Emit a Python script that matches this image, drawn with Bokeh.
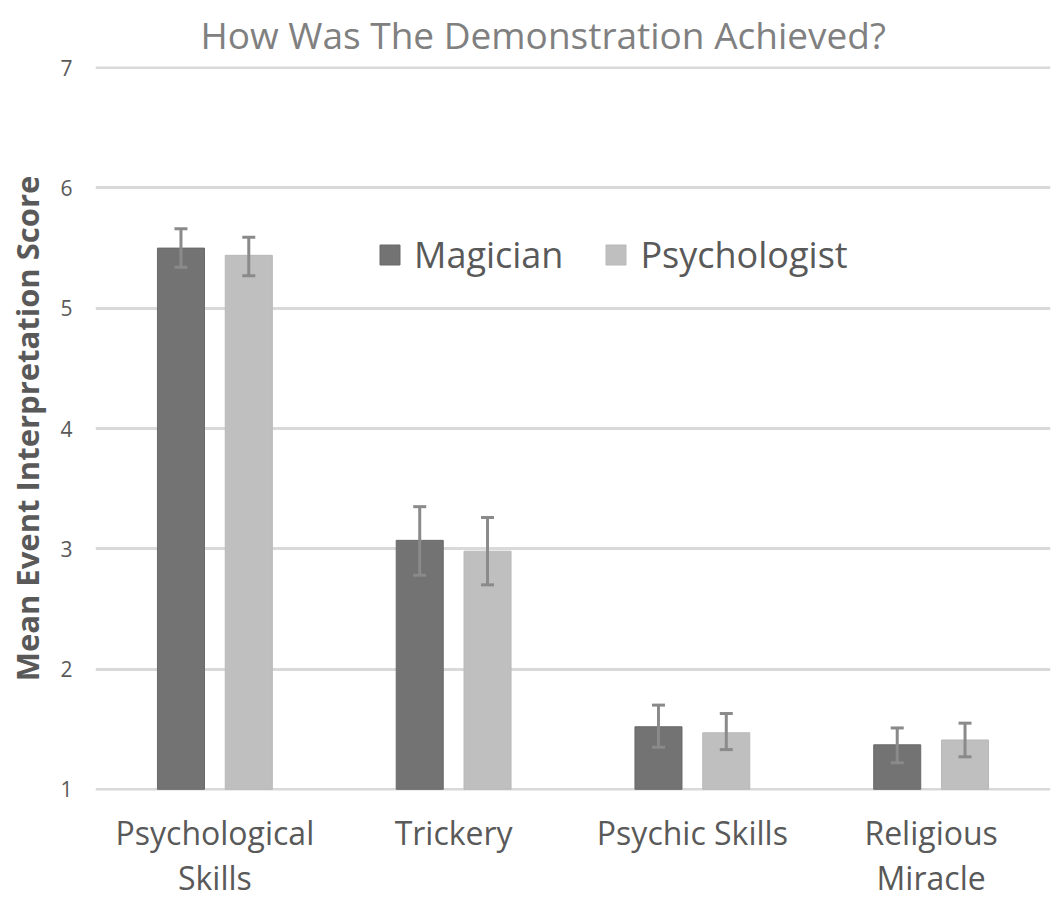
from bokeh.plotting import figure
from bokeh.models import (FactorRange, Range1d, ColumnDataSource, Whisker, TeeHead,
                          Legend, LegendItem)
from bokeh.transform import dodge
from bokeh.embed import file_html
from bokeh.resources import INLINE

categories = ["Psychological\nSkills", "Trickery", "Psychic Skills", "Religious\nMiracle"]
magician_mean = [5.50, 3.07, 1.52, 1.37]
magician_low = [5.34, 2.78, 1.35, 1.22]
magician_high = [5.66, 3.35, 1.70, 1.51]
psychologist_mean = [5.44, 2.98, 1.47, 1.41]
psychologist_low = [5.27, 2.70, 1.33, 1.27]
psychologist_high = [5.59, 3.26, 1.63, 1.55]
y_ticks = [1, 2, 3, 4, 5, 6, 7]

FONT = "Open Sans"
TXT = "#595959"

p = figure(x_range=FactorRange(*categories, range_padding=0),
           y_range=Range1d(0.99, 7.01),
           width=1056, height=901, output_backend="svg", toolbar_location=None,
           min_border_left=95, min_border_right=6, min_border_top=66, min_border_bottom=100)

p.title.text = "How Was The Demonstration Achieved?"
p.title.text_font = FONT
p.title.text_font_size = "37px"
p.title.text_font_style = "normal"
p.title.text_color = "#808080"
p.title.align = "left"
p.title.offset = 105
p.title.standoff = 13

p.outline_line_color = None
p.xgrid.grid_line_color = None
p.ygrid.grid_line_color = "#d9d9d9"
p.ygrid.grid_line_width = 3
p.yaxis.ticker = y_ticks

for ax in (p.xaxis, p.yaxis):
    ax.axis_line_color = None
    ax.major_tick_line_color = None
    ax.minor_tick_line_color = None
    ax.major_tick_out = 0
    ax.major_tick_in = 0
    ax.major_label_text_font = FONT
    ax.major_label_text_color = TXT

p.yaxis.major_label_text_font_size = "21px"
p.yaxis.major_label_standoff = 23
p.yaxis.axis_label = "Mean Event Interpretation Score"
p.yaxis.axis_label_text_font = FONT
p.yaxis.axis_label_text_font_size = "31px"
p.yaxis.axis_label_text_font_style = "bold"
p.yaxis.axis_label_text_color = TXT
p.yaxis.axis_label_standoff = 9

p.xaxis.major_label_text_font_size = "32px"
p.xaxis.major_label_text_line_height = 1.05
p.xaxis.major_label_standoff = 20

src = ColumnDataSource(dict(cat=categories, m=magician_mean, ml=magician_low, mh=magician_high,
                            s=psychologist_mean, sl=psychologist_low, sh=psychologist_high))

off = 0.142
w = 0.197
r1 = p.vbar(x=dodge("cat", -off, range=p.x_range), top="m", bottom=1, width=w, source=src,
            fill_color="#737373", line_color="#6a6a6a")
r2 = p.vbar(x=dodge("cat", off, range=p.x_range), top="s", bottom=1, width=w, source=src,
            fill_color="#bfbfbf", line_color="#b8b8b8")

ec = "#8a8a8a"
for x_off, lo, hi in ((-off, "ml", "mh"), (off, "sl", "sh")):
    wk = Whisker(base=dodge("cat", x_off, range=p.x_range), lower=lo, upper=hi, source=src,
                 line_color=ec, line_width=3, level="overlay",
                 upper_head=TeeHead(size=13, line_color=ec, line_width=3),
                 lower_head=TeeHead(size=13, line_color=ec, line_width=3))
    p.add_layout(wk)

legend = Legend(items=[LegendItem(label="Magician", renderers=[r1]),
                       LegendItem(label="Psychologist", renderers=[r2])],
                orientation="horizontal", location=(282, 511),
                label_text_font=FONT, label_text_font_size="36px", label_text_color=TXT,
                glyph_width=25, glyph_height=25, label_standoff=12, spacing=40,
                padding=0, margin=0, border_line_color=None, background_fill_alpha=0)
p.add_layout(legend, "center")

open("out.html", "w").write(file_html(p, INLINE))
